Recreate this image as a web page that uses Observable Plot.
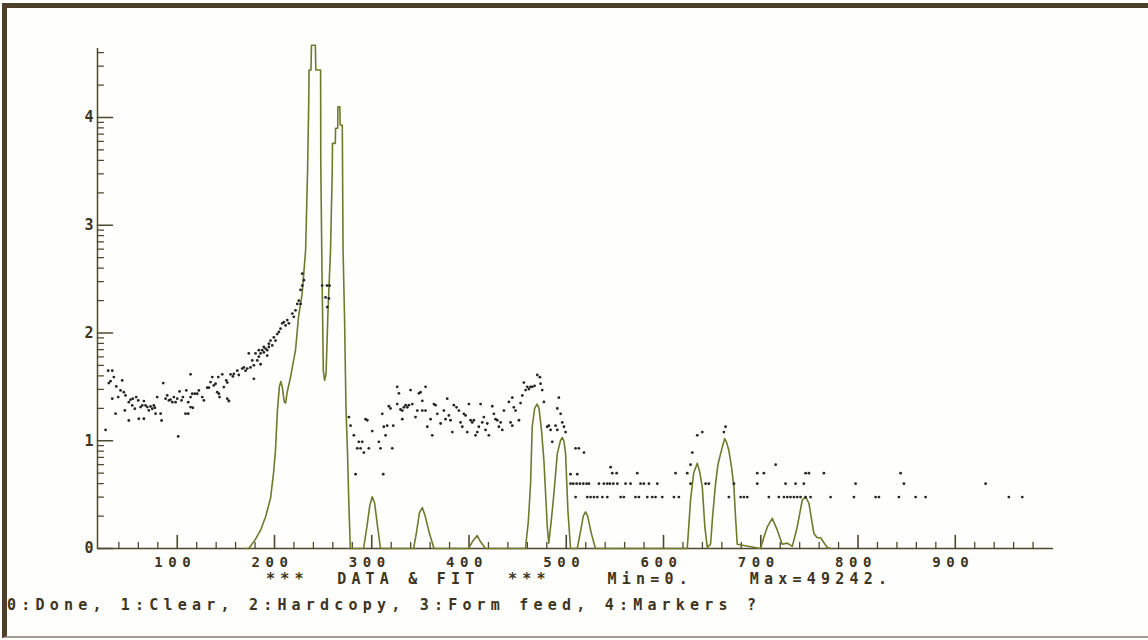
<!DOCTYPE html>
<html>
<head>
<meta charset="utf-8">
<script src="https://cdn.jsdelivr.net/npm/d3@7"></script>
<script src="https://cdn.jsdelivr.net/npm/@observablehq/plot@0.6"></script>
<style>
  body { margin: 0; background: #ffffff; }
  #wrap { position: relative; width: 1148px; height: 640px; overflow: hidden; background: #fefefd; }
  #frame { position: absolute; left: 2px; top: 3px; width: 1146px; height: 635px; box-sizing: border-box;
           border-left: 5px solid #4e3f2a; border-top: 5px solid #4e3f2a; border-bottom: 2px solid #a39d92; }
  #chart { position: absolute; left: 0; top: 0; }
  .term { position: absolute; font-family: "DejaVu Sans Mono", monospace; font-weight: bold; font-size: 15px;
          line-height: 15px; color: #3d3522; white-space: pre; letter-spacing: 5.2px; }
  g[aria-label="x-axis tick label"] text { letter-spacing: 5.6px; }
</style>
</head>
<body>
<div id="wrap">
  <div id="frame"></div>
  <div id="chart"></div>
  <div class="term" id="status" style="left:266px; top:572px;"></div>
  <div class="term" id="cmd" style="left:7px; top:598px;"></div>
</div>
<script>
// ---- axis settings / tick labels ----
const xDomain = [18, 1001];
const yDomain = [0, 4.64];
const xMajorTicks = [100, 200, 300, 400, 500, 600, 700, 800, 900];
const xMinorTicks = d3.range(40, 1000, 20).filter(v => v % 100 !== 0);
const yMajorTicks = [0, 1, 2, 3, 4];
const yMinorCounts = [2,3,4,5,6,7,8,9, 20,30,40,50,60,70,80,90, 200,300,400,500,600,700,800,900,
                      2000,3000,4000,5000,6000,7000,8000,9000, 20000,30000,40000];
const statusText = "***  DATA & FIT  ***    Min=0.    Max=49242.";
const commandText = "0:Done, 1:Clear, 2:Hardcopy, 3:Form feed, 4:Markers ?";

// ---- measured data (log10 counts) ----
const dataX = [
  26.3,29.0,29.7,31.4,33.2,33.2,34.8,36.6,37.3,39.3,41.7,43.4,45.1,46.8,46.1,50.2,50.2,52.0,53.7,54.3,
  56.4,57.8,59.9,60.5,62.3,64.0,65.7,65.7,67.4,69.2,70.8,72.5,74.3,75.9,77.0,77.7,79.4,82.9,83.9,85.6,
  88.0,89.7,91.4,93.1,94.9,96.5,98.3,100.0,101.0,102.4,104.4,105.8,108.5,111.3,109.3,111.3,113.7,113.7,115.4,118.1,
  120.6,113.7,116.0,122.2,125.7,127.4,130.8,132.5,134.2,136.0,137.6,139.4,141.1,142.8,143.5,142.2,146.3,147.9,150.4,151.4,
  153.1,154.8,157.2,151.4,153.1,
  158.2,161.7,163.3,166.8,168.5,170.2,172.0,175.4,177.1,178.8,180.5,182.3,183.9,185.7,187.4,189.1,190.8,192.5,194.2,195.9,
  197.7,199.3,201.1,202.8,204.5,206.2,208.0,209.6,211.4,213.1,214.8,218.3,219.9,221.6,223.4,225.0,226.8,226.8,228.5,230.2,
  228.5,173.6,178.8,183.9,185.7,189.0,192.5,194.2,
  249.0,254.0,256.6,252.5,255.9,254.2,
  276.5,278.2,281.6,283.4,286.7,290.2,285.1,288.5,291.9,293.6,295.4,297.0,300.5,307.3,309.0,310.8,311.8,314.2,312.4,315.9,
  317.6,321.1,319.3,322.1,326.2,327.9,326.2,329.6,331.4,333.0,334.8,331.4,336.5,338.2,339.9,341.7,345.0,346.8,348.5,350.2,
  352.0,355.3,352.0,355.3,357.1,362.2,360.5,363.9,365.6,367.4,370.8,374.2,375.9,377.6,379.3,381.0,382.8,384.4,387.2,389.6,
  391.3,393.1,394.7,396.5,398.2,399.9,401.6,403.3,405.0,406.7,408.5,410.1,411.9,413.6,415.3,417.0,418.8,420.4,423.9,425.6,
  427.3,429.1,430.7,432.5,434.2,435.9,441.0,444.5,442.7,444.5,446.1,447.9,451.3,453.0,454.8,456.4,458.2,459.9,461.6,463.3,
  465.1,467.4,470.2,472.9,473.6,475.3,477.0,480.5,482.1,483.9,485.6,489.0,490.8,490.8,494.2,495.9,497.6,499.3,492.4,504.4,
  511.3,509.6,513.0,518.2,
  504.4,507.2,510.6,514.0,517.5,520.9,523.3,533.6,538.7,542.2,544.9,548.4,552.5,561.0,566.1,576.4,579.8,585.0,593.6,627.8,
  643.3,646.6,672.4,696.4,725.5,735.8,744.3,797.5,847.2,931.2,
  509.6,521.6,525.0,528.5,531.9,537.1,542.2,555.9,559.2,571.2,574.7,583.3,588.4,591.8,598.7,610.7,615.8,667.2,
  679.3,682.7,686.1,708.3,718.6,723.8,727.3,730.6,734.1,737.5,740.9,746.1,751.2,771.8,795.8,818.1,821.5,842.0,859.2,869.5,
  955.1,968.9,
  545.6,547.3,551.8,573.0,612.4,624.4,696.4,703.2,746.1,749.5,764.9,843.8,
  627.8,715.3,
  629.6,634.7,639.9,662.1,663.8
];
const dataY = [
  1.10,1.65,1.535,1.553,1.65,1.39,1.591,1.251,1.504,1.405,1.467,1.56,1.451,1.421,1.281,1.188,1.358,1.381,1.328,1.39,
  1.297,1.405,1.374,1.204,1.312,1.328,1.204,1.368,1.328,1.312,1.281,1.318,1.297,1.328,1.306,1.251,1.405,1.251,1.188,1.535,
  1.39,1.421,1.374,1.381,1.358,1.405,1.358,1.39,1.04,1.458,1.374,1.405,1.251,1.251,1.467,1.358,1.405,1.616,1.436,1.436,
  1.436,1.312,1.306,1.467,1.405,1.374,1.492,1.492,1.544,1.591,1.513,1.529,1.451,1.436,1.405,1.591,1.616,1.498,1.56,1.39,
  1.368,1.616,1.597,1.54,1.37,
  1.62,1.65,1.61,1.67,1.68,1.65,1.67,1.68,1.745,1.70,1.81,1.745,1.78,1.71,1.84,1.82,1.855,1.79,1.90,1.93,
  1.885,1.96,1.93,1.99,2.01,2.04,2.09,2.10,2.07,2.12,2.09,2.18,2.15,2.21,2.27,2.30,2.27,2.40,2.44,2.49,
  2.55,1.81,1.575,1.84,1.81,1.87,1.84,1.87,
  2.44,2.44,2.44,2.33,2.32,2.24,
  1.22,1.14,1.05,0.69,0.99,0.99,0.93,0.93,0.89,1.20,1.19,0.93,1.09,0.99,0.93,1.25,0.69,1.05,1.13,1.14,
  1.32,0.93,1.30,1.14,1.50,1.44,1.34,1.29,1.28,1.31,1.33,1.20,1.31,1.33,1.47,1.34,1.22,1.28,1.44,1.45,
  1.37,1.50,1.28,1.28,1.13,1.05,1.20,1.34,1.33,1.25,1.16,1.28,1.20,1.39,1.235,1.19,1.08,1.33,1.31,1.28,
  1.17,1.13,1.25,1.235,1.08,1.34,1.19,1.17,1.19,1.05,1.08,1.13,1.34,1.17,1.22,1.10,1.16,1.05,1.32,1.25,
  1.20,1.19,1.13,1.17,1.10,1.28,1.36,1.40,1.17,1.14,1.31,1.28,1.19,1.35,1.42,1.54,1.47,1.50,1.48,1.50,
  1.50,1.51,1.61,1.59,1.53,1.47,1.36,1.13,1.14,1.10,0.99,1.14,1.10,1.30,1.25,1.17,1.13,1.08,1.40,0.69,
  0.69,0.93,0.93,0.89,
  0.602,0.602,0.602,0.602,0.602,0.602,0.602,0.602,0.602,0.602,0.602,0.602,0.602,0.602,0.602,0.602,0.602,0.602,0.602,0.602,
  0.602,0.602,0.602,0.602,0.602,0.602,0.602,0.602,0.602,0.602,
  0.477,0.477,0.477,0.477,0.477,0.477,0.477,0.477,0.477,0.477,0.477,0.477,0.477,0.477,0.477,0.477,0.477,0.477,
  0.477,0.477,0.477,0.477,0.477,0.477,0.477,0.477,0.477,0.477,0.477,0.477,0.477,0.477,0.477,0.477,0.477,0.477,0.477,0.477,
  0.477,0.477,
  0.755,0.699,0.699,0.699,0.699,0.699,0.699,0.699,0.699,0.699,0.699,0.699,
  0.778,0.778,
  0.89,1.05,1.08,1.08,1.13
];

// ---- fitted curve (log10 counts) ----
const fitX = [
  170,173.5,180,185.7,191,196,199,201,203,205,206.5,208,210,211.5,213,216.5,221.6,224.7,228.5,232,
  234,235.3,235.5,237.5,238,242,242.5,247.4,247.6,248.8,250.2,251.5,253,255,257.6,259.4,259.6,262.5,262.8,265,
  265.2,267.2,267.5,269.7,270.5,272,273.5,275,276.5,278,
  291.6,295,298,300.5,303,306,309,
  343,346,349,352,355,359,364,
  399.5,404,408.5,412,417,
  458,461,463.3,465,467.5,470,472,474.5,477,480.5,482,484.5,487.3,490.8,494,496,497.5,499.3,501.7,504.4,
  511.3,514.5,517.5,519.8,522,525.5,530,
  624.4,627.8,631,634.7,637,639.9,642.5,645,648.4,650.5,653.5,656,658.7,662.8,665,667.2,670,672.4,674,675.8,
  699.8,703,706.7,711.8,717,722.1,727.3,732.4,737.5,742.7,746.1,749.5,754.6,758.1,761.5,768.4,772
];
const fitY = [
  0,0,0.08,0.17,0.3,0.47,0.7,0.91,1.28,1.5,1.55,1.5,1.36,1.35,1.45,1.59,1.84,2.15,2.37,2.77,
  3.5,4.2,4.44,4.44,4.67,4.67,4.44,4.44,3.57,2.6,1.65,1.56,1.62,2.2,2.77,3.51,3.76,3.76,3.9,3.9,
  4.1,4.1,3.93,3.93,2.77,2.15,1.3,0.91,0.4,0,
  0,0.2,0.4,0.48,0.42,0.2,0,
  0,0.15,0.33,0.38,0.3,0.15,0,
  0,0.07,0.12,0.06,0,
  0,0.25,0.6,1.13,1.3,1.34,1.3,1.1,0.82,0.2,0.05,0.25,0.51,0.88,1.0,1.03,1.0,0.88,0.35,0,
  0,0.15,0.3,0.34,0.3,0.15,0,
  0,0.45,0.7,0.79,0.72,0.57,0.2,0.01,0.04,0.3,0.6,0.78,0.88,1.02,0.98,0.91,0.75,0.57,0.3,0.04,
  0,0.1,0.2,0.28,0.17,0.04,0.05,0.02,0.2,0.45,0.48,0.42,0.14,0.1,0.1,0.01,0
];

// ---- build tables ----
const points = dataX.map((x, i) => ({x, y: dataY[i]}));
const fit = fitX.map((x, i) => ({x, y: fitY[i]}));
const yMinorTicks = yMinorCounts.map(c => Math.log10(c));

const axisColor = "#4a4a30";
const textColor = "#3d3522";
const fitColor = "#6f7a2c";

// a plain line segment shape for tick vectors
const tickShape = {draw(context, l) { context.moveTo(0, 0); context.lineTo(0, -l); }};

const chart = Plot.plot({
  width: 1148,
  height: 580,
  marginLeft: 97,
  marginRight: 95,
  marginTop: 48,
  marginBottom: 32,
  x: {domain: xDomain, axis: null},
  y: {domain: yDomain, axis: null},
  style: {background: "transparent", color: textColor, fontFamily: "DejaVu Sans Mono", fontWeight: "bold", fontSize: "15px"},
  marks: [
    Plot.ruleY([yDomain[0]], {stroke: axisColor, strokeWidth: 1.5}),
    Plot.ruleX([xDomain[0]], {stroke: axisColor, strokeWidth: 1.5}),
    // y ticks pointing inward (to the right)
    Plot.vector(yMinorTicks, {x: xDomain[0], y: d => d, length: 6, rotate: 90, anchor: "start", shape: tickShape, stroke: axisColor, strokeWidth: 1.3}),
    Plot.vector(yMajorTicks, {x: xDomain[0], y: d => d, length: 15, rotate: 90, anchor: "start", shape: tickShape, stroke: axisColor, strokeWidth: 1.6}),
    // x ticks pointing inward (upward)
    Plot.vector(xMinorTicks, {x: d => d, y: yDomain[0], length: 6, rotate: 0, anchor: "start", shape: tickShape, stroke: axisColor, strokeWidth: 1.3}),
    Plot.vector(xMajorTicks, {x: d => d, y: yDomain[0], length: 13, rotate: 0, anchor: "start", shape: tickShape, stroke: axisColor, strokeWidth: 1.6}),
    // tick labels
    Plot.axisY(yMajorTicks, {tickSize: 0, tickPadding: 4, tickFormat: d => String(d), fill: textColor, fontSize: 15, label: null}),
    Plot.axisX(xMajorTicks, {tickSize: 0, tickPadding: 9, dx: -2, tickFormat: d => String(d), fill: textColor, fontSize: 14, label: null}),
    Plot.line(fit, {x: "x", y: "y", stroke: fitColor, strokeWidth: 1.6}),
    Plot.dot(points, {x: "x", y: "y", r: 1.4, fill: "#262626", stroke: "none"})
  ]
});
document.getElementById("chart").appendChild(chart);
document.getElementById("status").textContent = statusText;
document.getElementById("cmd").textContent = commandText;
</script>
</body>
</html>
